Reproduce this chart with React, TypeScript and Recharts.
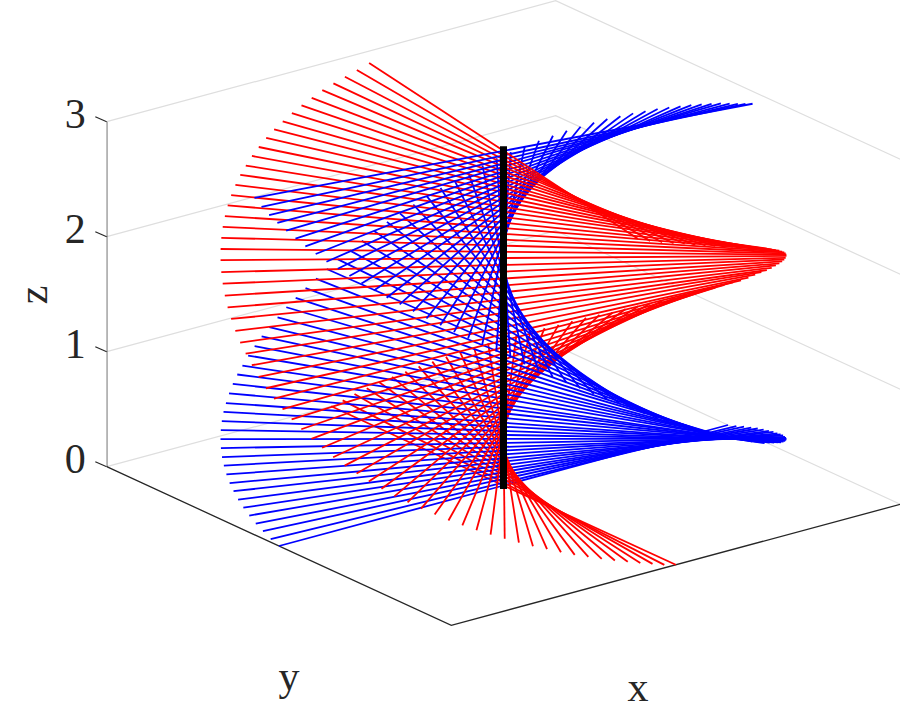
import React from 'react';
import { ComposedChart, Line, XAxis, YAxis } from 'recharts';

const Z_TICKS = [0, 1, 2, 3];

// height of each spoke along the central rod
const SPOKE_Z = [
  0, 0.025, 0.057, 0.086, 0.117, 0.146, 0.176, 0.208, 0.237, 0.27, 0.304, 0.335, 0.37, 0.405,
  0.44, 0.474, 0.511, 0.546, 0.588, 0.628, 0.669, 0.705, 0.754, 0.797, 0.844, 0.889, 0.937,
  0.992, 1.041, 1.094, 1.148, 1.204, 1.261, 1.315, 1.376, 1.44, 1.501, 1.558, 1.619, 1.681,
  1.74, 1.8, 1.86, 1.918, 1.978, 2.032, 2.086, 2.138, 2.188, 2.239, 2.286, 2.334, 2.381, 2.422,
  2.466, 2.506, 2.548, 2.586, 2.621, 2.66, 2.696, 2.732, 2.77, 2.802, 2.835, 2.87, 2.91,
];

// azimuth of each red spoke, degrees in the x-y plane
const RED_AZIMUTH = [
  270, 267.13, 264.27, 261.4, 258.54, 255.67, 252.8, 249.94, 247.07, 244.21, 241.34, 238.47,
  235.61, 232.74, 229.88, 227.01, 224.14, 221.28, 218.41, 215.55, 212.68, 209.81, 206.95, 204.08,
  201.22, 198.35, 195.48, 192.62, 189.75, 186.89, 184.02, 181.15, 178.29, 175.42, 172.56, 169.69,
  166.82, 163.96, 161.09, 158.23, 155.36, 152.49, 149.63, 146.76, 143.9, 141.03, 138.16, 135.3,
  132.43, 129.57, 126.7, 123.83, 120.97, 118.1, 115.24, 112.37, 109.5, 106.64, 103.77, 100.91,
  98.04, 95.17, 92.31, 89.44, 86.58, 83.71, 80.84,
];

// azimuth of each blue spoke
const BLUE_AZIMUTH = [
  180, 177.13, 174.27, 171.4, 168.54, 165.67, 162.8, 159.94, 157.07, 154.21, 151.34, 148.47,
  145.61, 142.74, 139.88, 137.01, 134.14, 131.28, 128.41, 125.55, 122.68, 119.81, 116.95, 114.08,
  111.22, 108.35, 105.48, 102.62, 99.75, 96.89, 94.02, 91.15, 88.29, 85.42, 82.56, 79.69,
  76.82, 73.96, 71.09, 68.23, 65.36, 62.49, 59.63, 56.76, 53.9, 51.03, 48.16, 45.3,
  42.43, 39.57, 36.7, 33.83, 30.97, 28.1, 25.24, 22.37, 19.5, 16.64, 13.77, 10.91,
  8.04, 5.17, 2.31, -0.56, -3.42, -6.29, -9.16,
];

const ROD_Z = [0, 2.92];

const WIDTH = 900;
const HEIGHT = 704;
const AXIS_LEFT = 106.7; // where the z axis sits in the picture
const Z_PX = 115; // pixels per z unit
const Z0_PX = 466.7; // vertical pixel of z = 0 on the axis

// orthographic view of the unit box, in z units on the view plane
const project = (x: number, y: number, z: number) => ({
  u: (503.5 + 224.5 * x - 172.3 * y - AXIS_LEFT) / Z_PX,
  v: z + (60.5 * x + 79.3 * y - 18.8) / Z_PX,
});

const rad = (deg: number) => (deg * Math.PI) / 180;

// one half of a spoke, from the rod out to one tip
const halfSpokes = (azimuths: number[], color: string) =>
  azimuths.flatMap((az, i) =>
    [az, az + 180].map((a) => ({
      color,
      depth: Math.cos(rad(a - 52.5)),
      points: [
        project(0, 0, SPOKE_Z[i]),
        project(Math.cos(rad(a)), Math.sin(rad(a)), SPOKE_Z[i]),
      ],
    })),
  );

// the picture is depth sorted, so paint the far half spokes first
const spokes = [...halfSpokes(RED_AZIMUTH, '#ff0000'), ...halfSpokes(BLUE_AZIMUTH, '#0000ff')].sort(
  (a, b) => b.depth - a.depth,
);

const gridLines = Z_TICKS.map((z) => [project(-1, 1, z), project(1, 1, z), project(1, -1, z)]);
const floorEdge = [project(-1, 1, 0), project(-1, -1, 0), project(1, -1, 0)];
const zEdge = [project(-1, 1, 0), project(-1, 1, 3)];
const rod = ROD_Z.map((z) => project(0, 0, z));

const FONT = "'Liberation Serif', 'Times New Roman', Times, serif";
const LABEL_STYLE = { fontFamily: FONT, fontSize: 42, fontWeight: 400, fill: '#262626' };

function ZTick({ x, y, payload }: any) {
  return (
    <g>
      <line x1={x} y1={y} x2={x - 11.4} y2={y - 5} stroke="#262626" strokeWidth={1.2} />
      <text x={x - 21} y={y + 6.5} textAnchor="end" style={LABEL_STYLE}>
        {payload.value}
      </text>
    </g>
  );
}

export default function App() {
  return (
    <div style={{ width: WIDTH, height: HEIGHT, background: '#fff' }}>
      <style>{'html,body{margin:0;padding:0}'}</style>
      <ComposedChart width={WIDTH} height={HEIGHT} margin={{ top: 0, right: 0, bottom: 0, left: 0 }}>
        <XAxis
          type="number"
          dataKey="u"
          hide
          domain={[0, (WIDTH - AXIS_LEFT) / Z_PX]}
          allowDataOverflow
        />
        <YAxis
          type="number"
          width={AXIS_LEFT}
          domain={[(Z0_PX - HEIGHT) / Z_PX, Z0_PX / Z_PX]}
          ticks={Z_TICKS}
          interval={0}
          axisLine={false}
          tickLine={false}
          tickSize={0}
          tickMargin={0}
          tick={<ZTick />}
          allowDataOverflow
        />
        {gridLines.map((pts, i) => (
          <Line
            key={`grid-${i}`}
            data={pts}
            dataKey="v"
            stroke="#dedede"
            strokeWidth={1.2}
            dot={false}
            isAnimationActive={false}
          />
        ))}
        <Line data={floorEdge} dataKey="v" stroke="#262626" strokeWidth={1.3} dot={false} isAnimationActive={false} />
        <Line data={zEdge} dataKey="v" stroke="#262626" strokeWidth={1.3} dot={false} isAnimationActive={false} />
        {spokes.map((s, i) => (
          <Line
            key={`spoke-${i}`}
            data={s.points}
            dataKey="v"
            stroke={s.color}
            strokeWidth={1.8}
            dot={false}
            isAnimationActive={false}
          />
        ))}
        <Line
          data={rod}
          dataKey="v"
          stroke="#000000"
          strokeWidth={7}
          strokeLinecap="square"
          dot={false}
          isAnimationActive={false}
        />
        <text x={289} y={690} textAnchor="middle" style={LABEL_STYLE}>y</text>
        <text x={638} y={695} textAnchor="middle" dy={6} style={LABEL_STYLE}>x</text>
        <text x={47} y={295} textAnchor="middle" transform="rotate(-90 47 295)" style={LABEL_STYLE}>z</text>
      </ComposedChart>
    </div>
  );
}
